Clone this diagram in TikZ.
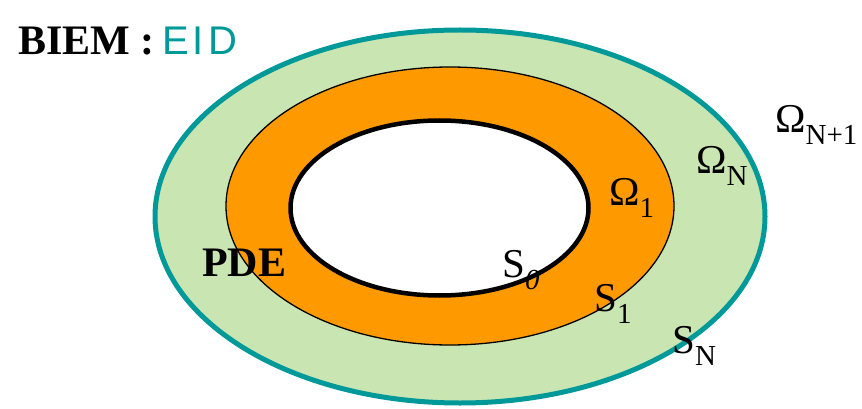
\documentclass[tikz,border=0pt]{standalone}
\usepackage{fontspec}
\setmainfont{Liberation Serif}
\newfontfamily\eidfont[LetterSpace=10]{Liberation Sans}
\definecolor{tealc}{RGB}{0,153,153}
\definecolor{greenc}{RGB}{200,229,178}
\definecolor{orangec}{RGB}{255,153,0}
\newcommand{\mylbl}[2]{{\fontsize{41}{43}\selectfont #1}\raisebox{-12.5pt}{\fontsize{29}{30}\selectfont #2}}
\begin{document}
\begin{tikzpicture}[x=1pt,y=-1pt,
  lbl/.style={inner sep=0pt,anchor=base west},
  bigbold/.style={lbl,font=\fontsize{42}{44}\selectfont\bfseries}]
\useasboundingbox (0,0) rectangle (862,409);
% regions
\draw[line width=5pt,draw=tealc,fill=greenc] (460,216.5) ellipse [x radius=305,y radius=186.5];
\draw[line width=1.3pt,draw=black,fill=orangec] (450,206) ellipse [x radius=224,y radius=139];
\draw[line width=4.5pt,draw=black,fill=white] (439.5,208) ellipse [x radius=149,y radius=87.5];
% labels
\node[bigbold] (title) at (18,55) {BIEM :};
\node[lbl,text=tealc,font=\fontsize{40}{42}\eidfont] (eid) at (162,55) {EID};
\node[bigbold] (pde) at (202,276) {PDE};
\node[lbl] (omN1) at (775,132) {\mylbl{Ω}{N+1}};
\node[lbl] (omN) at (696,173) {\mylbl{Ω}{N}};
\node[lbl] (om1) at (609,205) {\mylbl{Ω}{1}};
\node[lbl] (s0) at (502,277) {\mylbl{S}{\itshape 0}};
\node[lbl] (s1) at (594,311) {\mylbl{S}{1}};
\node[lbl] (sN) at (672,353) {\mylbl{S}{N}};
\end{tikzpicture}
\end{document}
